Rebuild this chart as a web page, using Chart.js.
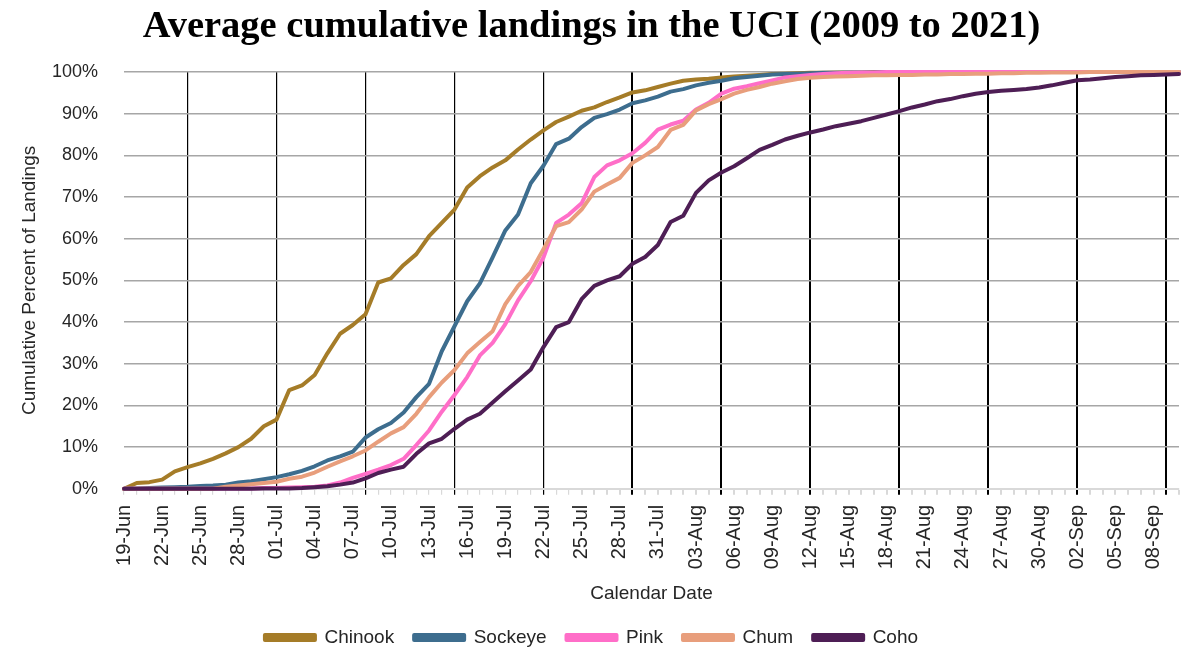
<!DOCTYPE html>
<html>
<head>
<meta charset="utf-8">
<title>Average cumulative landings in the UCI</title>
<script src="https://cdn.jsdelivr.net/npm/chart.js@4.4.1/dist/chart.umd.min.js"></script>
<style>
  html, body { margin: 0; padding: 0; background: #fff; }
</style>
</head>
<body>
<canvas id="landings" width="1185" height="649"></canvas>
<script>
// calendar days, 19 Jun to 10 Sep
const dates = [
  "19-Jun", "20-Jun", "21-Jun", "22-Jun", "23-Jun", "24-Jun", "25-Jun", "26-Jun", "27-Jun", "28-Jun", "29-Jun", "30-Jun",
  "01-Jul", "02-Jul", "03-Jul", "04-Jul", "05-Jul", "06-Jul", "07-Jul", "08-Jul", "09-Jul", "10-Jul", "11-Jul", "12-Jul",
  "13-Jul", "14-Jul", "15-Jul", "16-Jul", "17-Jul", "18-Jul", "19-Jul", "20-Jul", "21-Jul", "22-Jul", "23-Jul", "24-Jul",
  "25-Jul", "26-Jul", "27-Jul", "28-Jul", "29-Jul", "30-Jul", "31-Jul",
  "01-Aug", "02-Aug", "03-Aug", "04-Aug", "05-Aug", "06-Aug", "07-Aug", "08-Aug", "09-Aug", "10-Aug", "11-Aug", "12-Aug",
  "13-Aug", "14-Aug", "15-Aug", "16-Aug", "17-Aug", "18-Aug", "19-Aug", "20-Aug", "21-Aug", "22-Aug", "23-Aug", "24-Aug",
  "25-Aug", "26-Aug", "27-Aug", "28-Aug", "29-Aug", "30-Aug", "31-Aug",
  "01-Sep", "02-Sep", "03-Sep", "04-Sep", "05-Sep", "06-Sep", "07-Sep", "08-Sep", "09-Sep", "10-Sep"
];

// days marked with a vertical line (one per week)
const weekLines = ["24-Jun", "01-Jul", "08-Jul", "15-Jul", "22-Jul", "29-Jul", "05-Aug", "12-Aug", "19-Aug", "26-Aug", "02-Sep", "09-Sep"];

// cumulative % of landings by species
const chinook = [
  0, 1.4, 1.6, 2.2, 4.2, 5.2, 6.1, 7.2, 8.5, 10.0, 12.0, 15.0, 16.6,
  23.7, 24.8, 27.3, 32.5, 37.2, 39.3, 41.9, 49.5, 50.5, 53.7, 56.3, 60.6, 63.8, 67.0,
  72.3, 75.0, 77.1, 78.8, 81.4, 83.8, 86.0, 88.0, 89.3, 90.7, 91.5, 92.8, 93.9, 95.1, 95.6,
  96.4, 97.2, 97.9, 98.2, 98.4, 98.7, 98.9, 99.1, 99.3, 99.5, 99.6, 99.7,
  99.8, 99.8, 99.9, 99.9, 99.9, 100, 100, 100, 100, 100, 100, 100, 100, 100, 100,
  100, 100, 100, 100, 100, 100, 100, 100, 100, 100, 100, 100, 100, 100, 100
];
const sockeye = [
  0, 0.1, 0.2, 0.3, 0.4, 0.5, 0.7, 0.8, 1.0, 1.5, 1.8, 2.3, 2.8,
  3.5, 4.3, 5.4, 6.8, 7.8, 8.9, 12.3, 14.3, 15.8, 18.3, 22.0, 25.2, 33.0, 39.0,
  45.0, 49.3, 55.5, 62.0, 65.8, 73.3, 77.5, 82.7, 84.0, 86.8, 89.0, 89.9, 91.0, 92.5, 93.2,
  94.1, 95.3, 95.9, 96.8, 97.4, 97.9, 98.5, 98.8, 99.1, 99.4, 99.5, 99.6,
  99.7, 99.8, 99.8, 99.9, 99.9, 99.9, 100, 100, 100, 100, 100, 100, 100, 100, 100,
  100, 100, 100, 100, 100, 100, 100, 100, 100, 100, 100, 100, 100, 100, 100
];
const pink = [
  0, 0, 0, 0, 0, 0, 0, 0, 0.1, 0.1, 0.1, 0.2, 0.2,
  0.3, 0.4, 0.5, 0.8, 1.5, 2.6, 3.6, 4.6, 5.7, 7.2, 10.5, 14.0, 18.5, 22.5,
  26.8, 32.0, 35.0, 39.5, 45.2, 49.8, 55.5, 63.8, 65.8, 68.5, 74.8, 77.6, 78.8, 80.5, 83.0,
  86.2, 87.4, 88.3, 91.0, 92.6, 94.8, 96.0, 96.6, 97.3, 98.0, 98.7, 99.0,
  99.3, 99.5, 99.7, 99.8, 99.9, 99.9, 100, 100, 100, 100, 100, 100, 100, 100, 100,
  100, 100, 100, 100, 100, 100, 100, 100, 100, 100, 100, 100, 100, 100, 100
];
const chum = [
  0, 0, 0, 0, 0, 0, 0, 0, 0.5, 0.8, 1.1, 1.4, 1.7,
  2.4, 2.9, 3.9, 5.3, 6.6, 7.8, 9.2, 11.3, 13.3, 14.8, 18.0, 22.0, 25.5, 28.5,
  32.5, 35.2, 37.8, 44.3, 48.7, 52.0, 57.5, 63.0, 64.0, 67.0, 71.3, 73.0, 74.6, 78.2, 80.0,
  82.0, 86.1, 87.3, 90.8, 92.3, 93.5, 94.8, 95.7, 96.4, 97.2, 97.8, 98.3,
  98.6, 98.8, 98.9, 99.0, 99.1, 99.2, 99.2, 99.3, 99.3, 99.4, 99.4, 99.5, 99.5, 99.6, 99.6,
  99.7, 99.7, 99.8, 99.8, 99.9, 99.9, 99.9, 100, 100, 100, 100, 100, 100, 100, 100
];
const coho = [
  0, 0, 0, 0, 0, 0, 0, 0, 0, 0, 0, 0.1, 0.1,
  0.1, 0.2, 0.4, 0.6, 1.0, 1.5, 2.5, 3.8, 4.6, 5.3, 8.4, 10.9, 12.0, 14.4,
  16.6, 18.0, 20.7, 23.4, 26.0, 28.6, 34.0, 38.8, 40.0, 45.5, 48.7, 50.0, 51.0, 54.0, 55.6,
  58.5, 64.0, 65.5, 71.0, 74.0, 75.9, 77.4, 79.3, 81.3, 82.5, 83.8, 84.7,
  85.5, 86.2, 87.0, 87.6, 88.2, 89.0, 89.8, 90.6, 91.5, 92.2, 93.0, 93.5, 94.2, 94.8, 95.2,
  95.5, 95.7, 95.9, 96.3, 96.8, 97.4, 98.0, 98.2, 98.5, 98.8, 99.0, 99.2, 99.3, 99.4, 99.5
];

const sans = "'Liberation Sans', Arial, sans-serif";
const textColor = "#262626";

function species(label, data, color, order) {
  return {
    label: label,
    data: data,
    borderColor: color,
    backgroundColor: color,
    borderWidth: 4,
    pointRadius: 0,
    tension: 0,
    borderJoinStyle: "round",
    borderCapStyle: "round",
    clip: false,
    order: order,
  };
}

const isWeekLine = (i) => weekLines.includes(dates[i]);

const chartDOM = document.getElementById("landings").getContext("2d");

new Chart(chartDOM, {
  type: "line",
  data: {
    labels: dates,
    datasets: [
      species("Chinook", chinook, "#a57c28", 5),
      species("Sockeye", sockeye, "#3d6d8e", 4),
      species("Pink", pink, "#ff6ec8", 3),
      species("Chum", chum, "#e89e7c", 2),
      species("Coho", coho, "#4e1e55", 1),
    ],
  },
  options: {
    responsive: false,
    animation: false,
    layout: { padding: { left: 4, right: 6, top: 2, bottom: -8 } },
    plugins: {
      title: {
        display: true,
        text: "Average cumulative landings in the UCI (2009 to 2021)",
        color: "#000",
        font: { family: "'Liberation Serif', serif", size: 38.5, weight: "bold" },
        padding: { top: 2, bottom: 21.8 },
      },
      legend: {
        position: "bottom",
        labels: {
          boxWidth: 50,
          boxHeight: 5,
          padding: 20,
          color: textColor,
          font: { family: sans, size: 19 },
          sort: (a, b) => a.datasetIndex - b.datasetIndex,
        },
      },
      tooltip: { enabled: false },
    },
    scales: {
      x: {
        afterFit: (scale) => {
          // keep the plot running edge to edge
          scale.paddingLeft = 0;
          scale.paddingRight = 0;
        },
        grid: {
          color: (c) => (isWeekLine(c.index) ? "#000" : "rgba(0,0,0,0)"),
          lineWidth: (c) => (c.index > 35 ? 2 : 1.2),
          tickColor: (c) => (isWeekLine(c.index) ? "#000" : "#d9d9d9"),
          tickLength: 6,
        },
        border: { color: "#d9d9d9", width: 2 },
        ticks: {
          autoSkip: false,
          minRotation: 90,
          maxRotation: 90,
          padding: 10,
          color: textColor,
          font: { family: sans, size: 20 },
          callback: (v, i) => (i % 3 === 0 ? dates[i] : ""),
        },
        title: {
          display: true,
          text: "Calendar Date",
          color: textColor,
          font: { family: sans, size: 19 },
          padding: { top: 2.9, bottom: 3 },
        },
      },
      y: {
        min: 0,
        max: 100,
        afterFit: (scale) => {
          // fixed gutter for the axis title and the % labels
          scale.width = 120;
        },
        grid: {
          color: (c) => (c.tick && c.tick.value === 0 ? "rgba(0,0,0,0)" : "#a6a6a6"),
          lineWidth: 1.5,
          drawTicks: false,
        },
        border: { display: false },
        ticks: {
          stepSize: 10,
          padding: 26,
          color: textColor,
          font: { family: sans, size: 18 },
          callback: (v) => v + "%",
        },
        title: {
          display: true,
          text: "Cumulative Percent of Landings",
          color: textColor,
          font: { family: sans, size: 19 },
          padding: { top: 14.6, bottom: 10.6 },
        },
      },
    },
  },
});
</script>
</body>
</html>
